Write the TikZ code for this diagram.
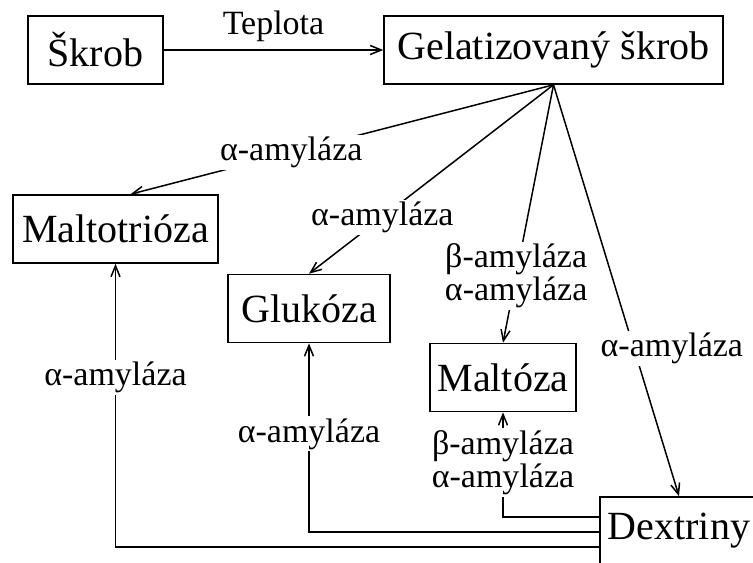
\documentclass[tikz,border=0pt]{standalone}
\usepackage{fontspec}
\setmainfont{Liberation Serif}
\usetikzlibrary{arrows.meta,calc}

\begin{document}
\begin{tikzpicture}[x=0.5pt,y=-0.5pt,line width=0.75pt,
  box/.style={draw,line width=0.8pt,minimum height=34pt,inner sep=0pt,font=\fontsize{20}{20}\selectfont},
  lab/.style={fill=white,inner sep=1pt,align=center,font=\fontsize{17}{16.5}\selectfont},
  >={Straight Barb[length=5.5pt,width=4.5pt]}]
 \clip (0,0) rectangle (753,562);
 \node[box,minimum width=67.5pt]  (skrob)   at (95.5,50)   {Škrob};
 \node[box,minimum width=169.5pt] (gel)     at (553.5,50)  {Gelatizovaný škrob};
 \node[box,minimum width=102.5pt] (malt)    at (115.5,229) {Maltotrióza};
 \node[box,minimum width=81pt]    (gluk)    at (309,308.5) {Glukóza};
 \node[box,minimum width=73pt]    (maltoza) at (503,377.5) {Maltóza};
 \node[box,minimum width=79pt]    (dex)     at (679,531)   {Dextriny};
  \draw[->] (skrob) -- node[lab,fill=none,above=3pt] {Teplota} (gel);
  \draw[->] (gel.south) -- node[lab,pos=0.62] {α-amyláza} ($(malt.north)+(15,0)$);
  \draw[->] (gel.south) -- node[lab,pos=0.7] {α-amyláza} (gluk.north);
  \draw[->] (gel.south) -- node[lab,pos=0.74] {β-amyláza\\α-amyláza} (maltoza.north);
  \draw[->] (gel.south) -- node[lab,pos=0.64,xshift=19pt] {α-amyláza} (dex.north);
  \draw[->] ($(dex.west)+(0,-14)$) -| node[lab,pos=0.76] {β-amyláza\\α-amyláza} (maltoza.south);
  \draw[->] ($(dex.west)+(0,1)$) -| node[lab,pos=0.76] {α-amyláza} (gluk.south);
  \draw[->] ($(dex.west)+(0,16)$) -| node[lab,pos=0.8] {α-amyláza} (malt.south);
\end{tikzpicture}
\end{document}
